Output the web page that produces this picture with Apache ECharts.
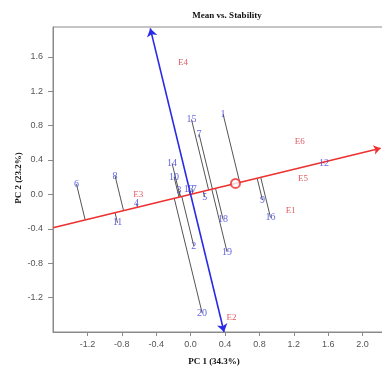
<!DOCTYPE html>
<html><head><meta charset="utf-8">
<script src="https://cdn.jsdelivr.net/npm/echarts@6/dist/echarts.min.js"></script>
<style>html,body{margin:0;padding:0;background:#fff}#c{width:382px;height:367px}</style>
</head><body><div id="c"></div>
<script>
// Genotypes (blue numbers)
const genotypes = ['1','2','3','4','5','6','7','8','9','10','11','12','13','14','15','16','17','18','19','20'];
const genoX = [0.378, 0.037, -0.134, -0.629, 0.165, -1.327, 0.099, -0.878, 0.836, -0.192, -0.850, 1.552, -0.021, -0.215, 0.010, 0.929, 0.014, 0.378, 0.424, 0.134];
const genoY = [0.933, -0.599, 0.041, -0.106, -0.033, 0.119, 0.697, 0.215, -0.067, 0.203, -0.331, 0.359, 0.055, 0.359, 0.871, -0.269, 0.060, -0.292, -0.669, -1.378];
// Environments (red labels)
const envs = ['E1','E2','E3','E4','E5','E6'];
const envX = [1.165, 0.476, -0.610, -0.087, 1.308, 1.270];
const envY = [-0.184, -1.431, -0.001, 1.529, 0.185, 0.610];
// Average environment and axes
const avgEnv = [0.522, 0.127];
const aecX = [-1.60, 2.21];
const aecY = [-0.389, 0.537];
const atcX = [-0.469, 0.389];
const atcY = [1.93, -1.60];
const xTicks = [-1.2,-0.8,-0.4,0.0,0.4,0.8,1.2,1.6,2.0];
const yTicks = [-1.2,-0.8,-0.4,0.0,0.4,0.8,1.2,1.6];

const len = Math.hypot(avgEnv[0], avgEnv[1]);
const ux = avgEnv[0]/len, uy = avgEnv[1]/len;
const projLines = genotypes.map((g,i)=>{
  const t = genoX[i]*ux + genoY[i]*uy;
  return {coords:[[genoX[i],genoY[i]],[t*ux,t*uy]]};
});

const chart = echarts.init(document.getElementById('c'), null, {renderer:'canvas'});
const axisCol = '#8a8a8a';
const labelFont = 'Liberation Sans';
const serif = 'Liberation Serif';
chart.setOption({
  animation:false,
  backgroundColor:'#fff',
  grid:{left:53, top:27, width:344, height:305, outerBoundsMode:'none', containLabel:false, show:true, borderColor:axisCol, borderWidth:1, backgroundColor:'transparent'},
  xAxis:{type:'value', min:-1.6, max:2.4, position:'bottom',
    splitLine:{show:false},
    axisLine:{show:true, onZero:false, lineStyle:{color:axisCol, width:1}},
    axisTick:{show:true, length:4, customValues:xTicks, lineStyle:{color:axisCol}},
    axisLabel:{customValues:xTicks, formatter:v=>v.toFixed(1), color:'#555', fontSize:9, fontFamily:labelFont, margin:8}
  },
  yAxis:{type:'value', min:-1.6, max:1.946,
    splitLine:{show:false},
    axisLine:{show:true, onZero:false, lineStyle:{color:axisCol, width:1}},
    axisTick:{show:true, length:5, customValues:yTicks, lineStyle:{color:axisCol}},
    axisLabel:{customValues:yTicks, formatter:v=>v.toFixed(1), color:'#555', fontSize:9, fontFamily:labelFont, margin:10}
  },
  graphic:[
    {type:'text', style:{x:227, y:16, text:'Mean vs. Stability', font:'bold 9px "Liberation Serif"', fill:'#111', textAlign:'center', textVerticalAlign:'middle'}},
    {type:'text', style:{x:214, y:362, text:'PC 1 (34.3%)', font:'bold 9px "Liberation Serif"', fill:'#111', textAlign:'center', textVerticalAlign:'middle'}},
    {type:'text', x:19, y:178, rotation:Math.PI/2, style:{x:0, y:0, text:'PC 2 (23.2%)', font:'bold 9px "Liberation Serif"', fill:'#111', textAlign:'center', textVerticalAlign:'middle'}}
  ],
  series:[
    {type:'lines', coordinateSystem:'cartesian2d', clip:false, silent:true, z:2,
      lineStyle:{color:'#555', width:1, opacity:1}, symbol:['none','none'],
      data:projLines},
    {type:'lines', coordinateSystem:'cartesian2d', clip:false, silent:true, z:3,
      lineStyle:{color:'#ee3030', width:1.6, opacity:1}, symbol:['none','arrow'], symbolSize:7,
      data:[{coords:[[aecX[0],aecY[0]],[aecX[1],aecY[1]]]}]},
    {type:'lines', coordinateSystem:'cartesian2d', clip:false, silent:true, z:4,
      lineStyle:{color:'#2a2ae6', width:1.6, opacity:1}, symbol:['arrow','arrow'], symbolSize:8,
      data:[{coords:[[atcX[0],atcY[0]],[atcX[1],atcY[1]]]}]},
    {type:'scatter', z:5, symbol:'emptyCircle', symbolSize:9,
      itemStyle:{color:'#ee3030', borderWidth:1},
      data:[avgEnv]},
    {type:'scatter', z:6, symbolSize:0,
      label:{show:true, position:'inside', formatter:p=>p.name, color:'#3c3cdc', fontSize:10, fontFamily:serif},
      data:genotypes.map((g,i)=>({name:g, value:[genoX[i],genoY[i]]}))},
    {type:'scatter', z:6, symbolSize:0,
      label:{show:true, position:'inside', formatter:p=>p.name, color:'#d6323c', fontSize:9, fontFamily:serif},
      data:envs.map((e,i)=>({name:e, value:[envX[i],envY[i]]}))}
  ]
});
</script></body></html>
